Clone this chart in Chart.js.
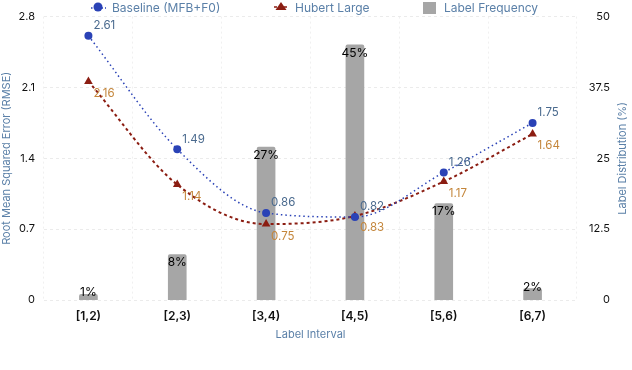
<!DOCTYPE html>
<html><head><meta charset="utf-8">
<script src="https://cdn.jsdelivr.net/npm/chart.js@4.4.0/dist/chart.umd.min.js"></script>
<style>html,body{margin:0;padding:0;background:#fff}#wrap{width:632px;height:370px;position:relative}</style>
</head><body><div id="wrap"><canvas id="c" width="632" height="370"></canvas></div>
<script>
const categories = ['[1,2)', '[2,3)', '[3,4)', '[4,5)', '[5,6)', '[6,7)'];
const baselineRMSE = [2.61, 1.49, 0.86, 0.82, 1.26, 1.75];
const hubertRMSE = [2.16, 1.14, 0.75, 0.83, 1.17, 1.64];
const labelFreq = [1, 8, 27, 45, 17, 2];
const leftTicks = [0, 0.7, 1.4, 2.1, 2.8];
const rightTicks = [0, 12.5, 25, 37.5, 50];
const seriesNames = ['Baseline (MFB+F0)', 'Hubert Large', 'Label Frequency'];

const BLUE = '#2a42b6', RED = '#8b1d12', GRAY = '#a6a6a6';
const BLUE_LBL = '#4a6a8e', RED_LBL = '#c4863b', TITLE = '#5b80a8';
const FONT = 'Inter, "Noto Sans", sans-serif';

const overlay = {
  id: 'overlay',
  afterDatasetsDraw(chart) {
    const ctx = chart.ctx;
    ctx.save();
    // bar labels
    const bm = chart.getDatasetMeta(2);
    ctx.font = '12px ' + FONT; ctx.fillStyle = '#000';
    ctx.textAlign = 'center'; ctx.textBaseline = 'middle';
    bm.data.forEach((el, i) => {
      const h = el.base - el.y;
      const y = h < 16 ? el.y - 1.5 : el.y + 8;
      ctx.fillText(labelFreq[i] + '%', el.x, y);
    });
    // line labels
    ctx.font = '11.5px ' + FONT; ctx.textAlign = 'left';
    chart.getDatasetMeta(0).data.forEach((el, i) => {
      ctx.fillStyle = BLUE_LBL; ctx.fillText(baselineRMSE[i].toFixed(2), el.x + 5, el.y - 10);
    });
    chart.getDatasetMeta(1).data.forEach((el, i) => {
      ctx.fillStyle = RED_LBL; ctx.fillText(hubertRMSE[i].toFixed(2), el.x + 5, el.y + 12);
    });
    ctx.restore();
  },
  afterDraw(chart) {
    const ctx = chart.ctx;
    ctx.save();
    ctx.font = '12px ' + FONT; ctx.textBaseline = 'middle'; ctx.textAlign = 'left';
    const ly = 8;
    // item 1
    ctx.strokeStyle = BLUE; ctx.lineWidth = 1.5; ctx.setLineDash([1.5, 2]);
    ctx.beginPath(); ctx.moveTo(91, ly); ctx.lineTo(106, ly); ctx.stroke();
    ctx.setLineDash([]);
    ctx.fillStyle = BLUE; ctx.beginPath(); ctx.arc(98, ly - 1, 4.5, 0, Math.PI * 2); ctx.fill();
    ctx.fillStyle = TITLE; ctx.fillText(seriesNames[0], 112, ly);
    // item 2
    ctx.strokeStyle = RED; ctx.lineWidth = 1.5; ctx.setLineDash([3, 2]);
    ctx.beginPath(); ctx.moveTo(274, ly - 1); ctx.lineTo(289, ly - 1); ctx.stroke();
    ctx.setLineDash([]);
    ctx.fillStyle = RED; ctx.beginPath();
    ctx.moveTo(281, ly - 6); ctx.lineTo(286.5, ly + 2); ctx.lineTo(275.5, ly + 2); ctx.closePath(); ctx.fill();
    ctx.fillStyle = TITLE; ctx.fillText(seriesNames[1], 295, ly);
    // item 3
    ctx.fillStyle = GRAY; ctx.fillRect(423, 2, 13, 12);
    ctx.fillStyle = TITLE; ctx.fillText(seriesNames[2], 444, ly);
    // right axis title (reads bottom-to-top)
    const ca = chart.chartArea;
    ctx.translate(623, (ca.top + ca.bottom) / 2);
    ctx.rotate(-Math.PI / 2);
    ctx.textAlign = 'center'; ctx.font = '11px ' + FONT; ctx.fillStyle = TITLE;
    ctx.fillText('Label Distribution (%)', 0, 0);
    ctx.restore();
  }
};

new Chart(document.getElementById('c'), {
  data: {
    labels: categories,
    datasets: [
      {
        type: 'line', label: seriesNames[0], data: baselineRMSE, yAxisID: 'y', order: 1,
        borderColor: BLUE, backgroundColor: BLUE, borderWidth: 1.5, borderDash: [1.5, 3],
        pointStyle: 'circle', pointRadius: 4, pointBackgroundColor: BLUE, pointBorderWidth: 0,
        cubicInterpolationMode: 'monotone', fill: false
      },
      {
        type: 'line', label: seriesNames[1], data: hubertRMSE, yAxisID: 'y', order: 2,
        borderColor: RED, backgroundColor: RED, borderWidth: 2, borderDash: [3, 3],
        pointStyle: 'triangle', pointRadius: 5, pointBackgroundColor: RED, pointBorderWidth: 0,
        cubicInterpolationMode: 'monotone', fill: false
      },
      {
        type: 'bar', label: seriesNames[2], data: labelFreq, yAxisID: 'y1', order: 3,
        backgroundColor: GRAY, borderWidth: 0, barThickness: 18,
        borderRadius: { topLeft: 2, topRight: 2, bottomLeft: 0, bottomRight: 0 }, borderSkipped: 'bottom'
      }
    ]
  },
  options: {
    responsive: false, devicePixelRatio: 1, animation: false,
    layout: { padding: { top: 12, left: 0, right: 22, bottom: 0 } },
    plugins: { legend: { display: false }, tooltip: { enabled: false } },
    scales: {
      x: {
        offset: true,
        grid: { offset: true, color: '#f0f0f0', lineWidth: 1, drawTicks: false },
        border: { display: false, dash: [2, 3] },
        ticks: { color: '#111', font: { family: FONT, size: 12, weight: '600' }, padding: 9 },
        title: { display: true, text: 'Label Interval', color: TITLE, font: { family: FONT, size: 11 }, padding: { top: 0, bottom: 29 } },
        afterFit(s) { s.height = 70; }
      },
      y: {
        position: 'left', min: 0, max: 2.8,
        afterBuildTicks(s) { s.ticks = leftTicks.map(v => ({ value: v })); },
        grid: { color: '#ebebeb', drawTicks: false },
        border: { display: false, dash: [3, 3] },
        ticks: { color: '#111', font: { family: FONT, size: 11 }, padding: 9, callback: v => String(v) },
        title: { display: true, text: 'Root Mean Squared Error (RMSE)', color: TITLE, font: { family: FONT, size: 11 }, padding: 0 },
        afterFit(s) { s.width = 44; }
      },
      y1: {
        position: 'right', min: 0, max: 50,
        afterBuildTicks(s) { s.ticks = rightTicks.map(v => ({ value: v })); },
        grid: { display: false, drawTicks: false },
        border: { display: false },
        ticks: { color: '#111', font: { family: FONT, size: 11 }, padding: 10, crossAlign: 'far', callback: v => String(v) },
        afterFit(s) { s.width = 33; }
      }
    }
  },
  plugins: [overlay]
});
</script>
</body></html>
